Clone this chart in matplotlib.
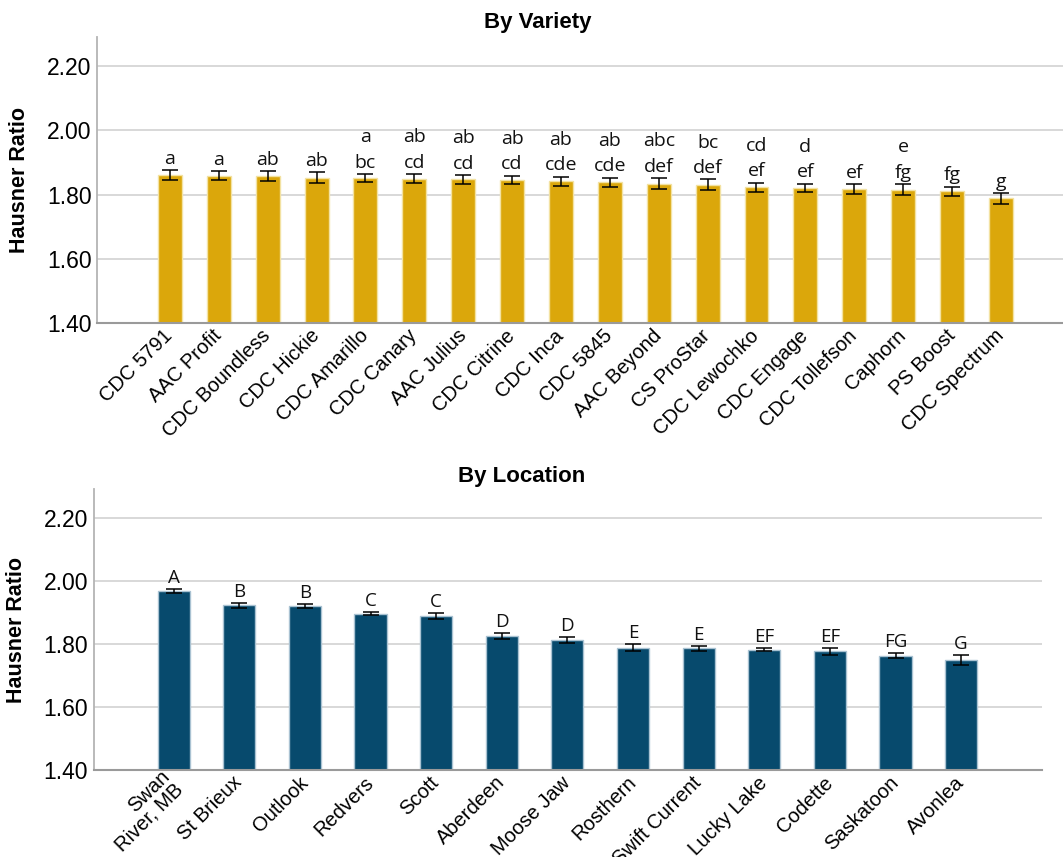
import numpy as np
import matplotlib.pyplot as plt

plt.rcParams['font.family'] = ['Liberation Sans', 'DejaVu Sans']

varieties = ['CDC 5791', 'AAC Profit', 'CDC Boundless', 'CDC Hickie', 'CDC Amarillo',
             'CDC Canary', 'AAC Julius', 'CDC Citrine', 'CDC Inca', 'CDC 5845',
             'AAC Beyond', 'CS ProStar', 'CDC Lewochko', 'CDC Engage', 'CDC Tollefson',
             'Caphorn', 'PS Boost', 'CDC Spectrum']
var_mean = [1.861, 1.859, 1.858, 1.853, 1.851, 1.849, 1.847, 1.846, 1.841, 1.839,
            1.834, 1.831, 1.823, 1.821, 1.817, 1.815, 1.810, 1.788]
var_err = [0.015, 0.013, 0.015, 0.018, 0.013, 0.014, 0.014, 0.013, 0.015, 0.014,
           0.017, 0.016, 0.014, 0.013, 0.015, 0.017, 0.015, 0.016]
var_letters = ['a', 'a', 'ab', 'ab', 'a\nbc', 'ab\ncd', 'ab\ncd', 'ab\ncd', 'ab\ncde',
               'ab\ncde', 'abc\ndef', 'bc\ndef', 'cd\nef', 'd\nef', 'ef', 'e\nfg', 'fg', 'g']

locations = ['Swan\nRiver, MB', 'St Brieux', 'Outlook', 'Redvers', 'Scott', 'Aberdeen',
             'Moose Jaw', 'Rosthern', 'Swift Current', 'Lucky Lake', 'Codette',
             'Saskatoon', 'Avonlea']
loc_mean = [1.967, 1.922, 1.920, 1.895, 1.888, 1.825, 1.812, 1.788, 1.786, 1.782,
            1.776, 1.763, 1.749]
loc_err = [0.007, 0.008, 0.007, 0.005, 0.009, 0.008, 0.009, 0.011, 0.008, 0.005,
           0.011, 0.007, 0.015]
loc_letters = ['A', 'B', 'B', 'C', 'C', 'D', 'D', 'E', 'E', 'EF', 'EF', 'FG', 'G']

yticks = [1.40, 1.60, 1.80, 2.00, 2.20]

fig = plt.figure(figsize=(10.63, 8.57), dpi=100)
ax1 = fig.add_axes([0.0913, 0.6228, 0.9087, 0.334])
ax2 = fig.add_axes([0.0881, 0.1015, 0.892, 0.3275])


def draw(ax, names, mean, err, letters, color, edge, xlim, lab_size):
    x = np.arange(len(names))
    ax.bar(x, np.array(mean) - 1.40, bottom=1.40, width=0.49, color=color,
           edgecolor=edge, linewidth=1, zorder=2)
    ax.errorbar(x, mean, yerr=err, fmt='none', ecolor='black', elinewidth=1.1,
                capsize=5.5, capthick=1.1, zorder=3)
    for xi, m, e, lab in zip(x, mean, err, letters):
        ax.annotate(lab, (xi, m + e), xytext=(0, 4.5), textcoords='offset points',
                    ha='center', va='baseline', fontsize=lab_size,
                    family=['Open Sans', 'DejaVu Sans'],
                    linespacing=1.55, color='#111111')
    ax.set_ylim(1.40, 2.29)
    ax.set_xlim(*xlim)
    ax.set_yticks(yticks)
    ax.set_yticklabels(['%.2f' % t for t in yticks], fontsize=16.5)
    ax.set_xticks(x)
    ax.set_xticklabels(names, rotation=45, ha='right', va='center',
                       rotation_mode='anchor', fontsize=14.5, linespacing=0.95)
    ax.tick_params(axis='both', length=0)
    ax.tick_params(axis='y', pad=4)
    ax.tick_params(axis='x', pad=7)
    ax.grid(axis='y', color='#d6d6d6', linewidth=1.3, zorder=0)
    ax.set_axisbelow(True)
    for s in ['top', 'right']:
        ax.spines[s].set_visible(False)
    ax.spines['left'].set_color('#b4b4b4')
    ax.spines['bottom'].set_color('#9a9a9a')
    ax.spines['left'].set_linewidth(1.3)
    ax.spines['bottom'].set_linewidth(1.5)
    ax.set_ylabel('Hausner Ratio', fontsize=15.5, fontweight='bold', labelpad=12)


draw(ax1, varieties, var_mean, var_err, var_letters, '#dba70b', '#f3e2a2', (-1.49, 18.27), 14)
draw(ax2, locations, loc_mean, loc_err, loc_letters, '#074a6d', '#a9c2d2', (-1.22, 13.23), 13.5)

fig.text(0.506, 0.974, 'By Variety', ha='center', va='center', fontsize=16, fontweight='bold')
fig.text(0.491, 0.444, 'By Location', ha='center', va='center', fontsize=16, fontweight='bold')

fig.savefig('out.png', dpi=100)
